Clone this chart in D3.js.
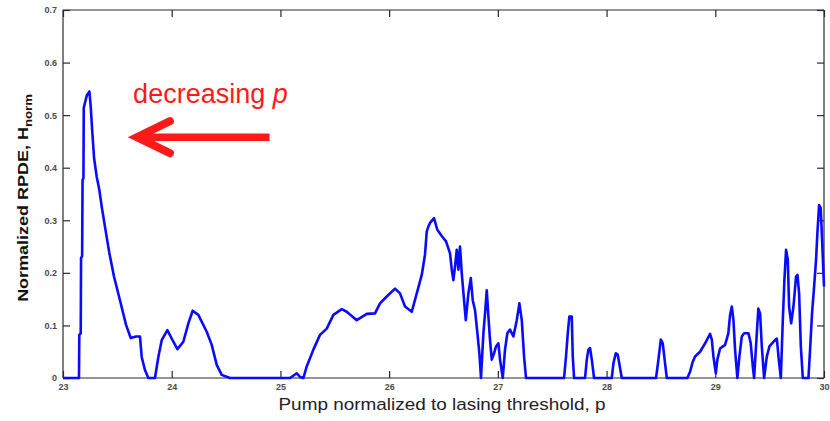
<!DOCTYPE html>
<html>
<head>
<meta charset="utf-8">
<script src="https://cdn.jsdelivr.net/npm/d3@7"></script>
<style>
  html, body { margin: 0; padding: 0; background: #fff; overflow: hidden; }
  svg { display: block; }
</style>
</head>
<body>
<svg id="chart" width="830" height="421"></svg>
<script>
// Pump level p (normalized to lasing threshold)
const pump = [
  23.000, 23.147, 23.150, 23.163, 23.166, 23.176, 23.180, 23.188, 23.191, 23.205,
  23.220, 23.243, 23.255, 23.270, 23.286, 23.310, 23.334, 23.356, 23.386, 23.426,
  23.469, 23.524, 23.580, 23.623, 23.672, 23.708, 23.724, 23.754, 23.785, 23.846,
  23.877, 23.908, 23.960, 24.015, 24.052, 24.107, 24.153, 24.193, 24.245, 24.322,
  24.368, 24.414, 24.460, 24.536, 25.088, 25.150, 25.180, 25.211, 25.242, 25.303,
  25.364, 25.426, 25.487, 25.564, 25.610, 25.702, 25.794, 25.870, 25.916, 25.978,
  26.054, 26.100, 26.146, 26.208, 26.254, 26.300, 26.330, 26.346, 26.361, 26.376,
  26.413, 26.443, 26.484, 26.523, 26.560, 26.576, 26.591, 26.606, 26.622, 26.637,
  26.652, 26.668, 26.689, 26.705, 26.729, 26.751, 26.769, 26.790, 26.812, 26.830,
  26.845, 26.867, 26.885, 26.898, 26.913, 26.928, 26.944, 26.965, 26.983, 27.005,
  27.020, 27.045, 27.066, 27.087, 27.112, 27.143, 27.174, 27.198, 27.220, 27.241,
  27.259, 27.609, 27.627, 27.643, 27.658, 27.680, 27.689, 27.701, 27.802, 27.818,
  27.833, 27.848, 27.864, 27.885, 28.048, 28.063, 28.085, 28.103, 28.124, 28.140,
  28.455, 28.477, 28.499, 28.517, 28.538, 28.554, 28.743, 28.768, 28.793, 28.814,
  28.860, 28.906, 28.952, 28.968, 28.983, 29.005, 29.019, 29.044, 29.090, 29.120,
  29.136, 29.152, 29.167, 29.182, 29.203, 29.222, 29.244, 29.265, 29.305, 29.326,
  29.345, 29.357, 29.382, 29.396, 29.412, 29.428, 29.449, 29.474, 29.498, 29.535,
  29.566, 29.584, 29.603, 29.621, 29.636, 29.651, 29.667, 29.679, 29.698, 29.719,
  29.743, 29.756, 29.771, 29.787, 29.805, 29.857, 29.872, 29.890, 29.909, 29.927,
  29.939, 29.955, 29.970, 29.985, 30.000
];

// Normalized RPDE, H_norm, at each pump level
const rpde = [
  0.000, 0.000, 0.082, 0.085, 0.228, 0.232, 0.377, 0.380, 0.514, 0.526,
  0.538, 0.545, 0.516, 0.466, 0.418, 0.383, 0.358, 0.326, 0.288, 0.238,
  0.193, 0.148, 0.101, 0.076, 0.079, 0.079, 0.040, 0.015, 0.000, 0.000,
  0.040, 0.072, 0.091, 0.069, 0.055, 0.069, 0.104, 0.128, 0.120, 0.088,
  0.063, 0.025, 0.006, 0.000, 0.000, 0.009, 0.002, 0.000, 0.022, 0.054,
  0.082, 0.094, 0.120, 0.131, 0.126, 0.110, 0.122, 0.123, 0.142, 0.155,
  0.170, 0.161, 0.136, 0.126, 0.161, 0.196, 0.235, 0.279, 0.288, 0.295,
  0.304, 0.282, 0.270, 0.260, 0.237, 0.206, 0.186, 0.212, 0.244, 0.206,
  0.250, 0.199, 0.148, 0.110, 0.161, 0.190, 0.148, 0.129, 0.085, 0.047,
  0.000, 0.085, 0.130, 0.167, 0.117, 0.072, 0.035, 0.047, 0.060, 0.066,
  0.035, 0.000, 0.054, 0.085, 0.092, 0.079, 0.110, 0.142, 0.110, 0.041,
  0.000, 0.000, 0.041, 0.085, 0.117, 0.117, 0.041, 0.000, 0.000, 0.035,
  0.054, 0.057, 0.035, 0.000, 0.000, 0.028, 0.047, 0.044, 0.019, 0.000,
  0.000, 0.035, 0.073, 0.066, 0.028, 0.000, 0.000, 0.012, 0.031, 0.041,
  0.050, 0.066, 0.084, 0.073, 0.041, 0.009, 0.035, 0.056, 0.063, 0.085,
  0.120, 0.136, 0.110, 0.054, 0.000, 0.041, 0.079, 0.085, 0.085, 0.066,
  0.022, 0.000, 0.085, 0.132, 0.123, 0.060, 0.000, 0.041, 0.060, 0.069,
  0.075, 0.035, 0.000, 0.110, 0.187, 0.244, 0.225, 0.136, 0.104, 0.136,
  0.193, 0.196, 0.161, 0.060, 0.000, 0.000, 0.054, 0.123, 0.174, 0.225,
  0.275, 0.329, 0.323, 0.250, 0.174
];

const xTickValues = [23, 24, 25, 26, 27, 28, 29, 30];
const yTickValues = [0, 0.1, 0.2, 0.3, 0.4, 0.5, 0.6, 0.7];

// Annotation: arrow pointing toward lower pump values
const arrowFrom = { p: 24.90, h: 0.458 };
const arrowTo   = { p: 23.68, h: 0.458 };
const arrowLabel = { p: 23.645, h: 0.523, text: "decreasing ", italic: "p" };

const svg = d3.select("#chart");
const W = 830, H = 421;
const plot = { left: 63, right: 824, top: 10, bottom: 378 };
const axisFont = "'Liberation Sans', Arial, Helvetica, sans-serif";
const frameColor = "#2a2a2a";
const tickLen = 7;

const x = d3.scaleLinear().domain([23, 30]).range([plot.left, plot.right]);
const y = d3.scaleLinear().domain([0, 0.7]).range([plot.bottom, plot.top]);

svg.append("rect").attr("width", W).attr("height", H).attr("fill", "#fff");

// Bottom axis (ticks point inward)
const gx = svg.append("g")
  .attr("transform", `translate(0,${plot.bottom})`)
  .call(d3.axisBottom(x).tickValues(xTickValues).tickSize(-tickLen).tickPadding(6)
    .tickFormat(d3.format("d")));
// Top axis (ticks only)
const gxt = svg.append("g")
  .attr("transform", `translate(0,${plot.top})`)
  .call(d3.axisTop(x).tickValues(xTickValues).tickSize(-tickLen).tickFormat(""));
// Left axis
const gy = svg.append("g")
  .attr("transform", `translate(${plot.left},0)`)
  .call(d3.axisLeft(y).tickValues(yTickValues).tickSize(-tickLen).tickPadding(6)
    .tickFormat(d => d === 0 ? "0" : d3.format(".1f")(d)));
// Right axis (ticks only)
const gyr = svg.append("g")
  .attr("transform", `translate(${plot.right},0)`)
  .call(d3.axisRight(y).tickValues(yTickValues).tickSize(-tickLen).tickFormat(""));

[gx, gxt, gy, gyr].forEach(g => {
  g.select(".domain").attr("stroke", frameColor).attr("stroke-width", 1.2);
  g.selectAll(".tick line").attr("stroke", frameColor).attr("stroke-width", 1.2);
  g.selectAll(".tick text")
    .attr("fill", "#4a4a4a")
    .attr("font-family", axisFont)
    .attr("font-weight", "bold")
    .attr("font-size", 9);
});
// keep the frame tight to the plot box
[gx, gxt].forEach(g => g.select(".domain").attr("d", `M${plot.left},0H${plot.right}`));
[gy, gyr].forEach(g => g.select(".domain").attr("d", `M0,${plot.bottom}V${plot.top}`));

// Data line
const line = d3.line().x((d, i) => x(pump[i])).y(d => y(d));
svg.append("path")
  .datum(rpde)
  .attr("d", line)
  .attr("fill", "none")
  .attr("stroke", "#0a0aff")
  .attr("stroke-width", 2.6)
  .attr("stroke-linejoin", "round");

// Axis titles
svg.append("text")
  .attr("x", 442).attr("y", 410)
  .attr("text-anchor", "middle")
  .attr("font-family", axisFont)
  .attr("font-size", 17)
  .attr("fill", "#222")
  .attr("textLength", 327)
  .attr("lengthAdjust", "spacingAndGlyphs")
  .text("Pump normalized to lasing threshold, p");

const yTitle = svg.append("text")
  .attr("transform", `translate(28,198) rotate(-90) scale(1.2,1)`)
  .attr("text-anchor", "middle")
  .attr("font-family", axisFont)
  .attr("font-weight", "bold")
  .attr("font-size", 15)
  .attr("fill", "#111");
yTitle.append("tspan").text("Normalized RPDE, H");
yTitle.append("tspan").attr("font-size", 11).attr("dy", 4).text("norm");

// Annotation arrow and label
const red = "#ff1a1a";
const ax0 = x(arrowFrom.p), ay = y(arrowFrom.h), ax1 = x(arrowTo.p);
svg.append("line")
  .attr("x1", ax0).attr("y1", ay).attr("x2", ax1 + 4).attr("y2", ay)
  .attr("stroke", red).attr("stroke-width", 7.5);
svg.append("path")
  .attr("d", `M${ax1 + 33},${ay - 16}L${ax1},${ay}L${ax1 + 33},${ay + 16}`)
  .attr("fill", "none").attr("stroke", red).attr("stroke-width", 8)
  .attr("stroke-linejoin", "miter").attr("stroke-linecap", "round");

const lbl = svg.append("text")
  .attr("x", x(arrowLabel.p)).attr("y", y(arrowLabel.h))
  .attr("font-family", axisFont)
  .attr("font-size", 27)
  .attr("fill", red);
lbl.append("tspan").text(arrowLabel.text);
lbl.append("tspan").attr("font-style", "italic").text(arrowLabel.italic);
</script>
</body>
</html>
